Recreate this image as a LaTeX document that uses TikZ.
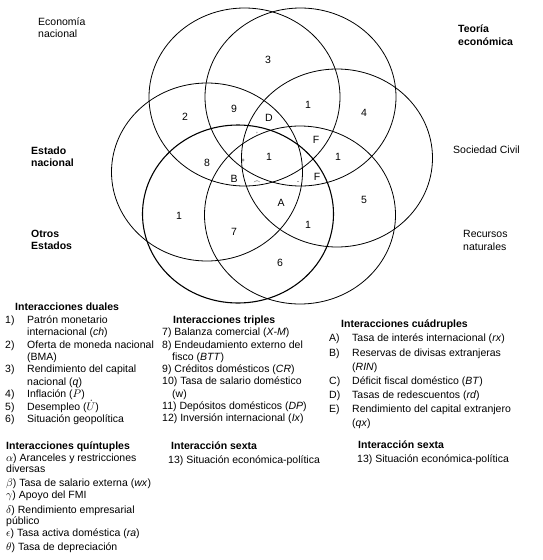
\documentclass[tikz,border=0pt]{standalone}
\usepackage{fontspec}
\setmainfont{Liberation Sans}
\usetikzlibrary{shapes.geometric}

\begin{document}
\begin{tikzpicture}[
  x=1pt, y=-1pt,
  % ── Set outline ─────────────────────────────────────────
  ring/.style={
    ellipse,
    draw           = black,
    line width     = 0.8pt,
    inner sep      = 0pt,
    minimum width  = 191pt,
    minimum height = 178pt
  },
  % ── Highlighted set (heavier outline) ───────────────────
  thickring/.style={
    ring,
    line width = 1.1pt
  },
  % ── Region mark ─────────────────────────────────────────
  num/.style={
    inner sep = 0pt,
    font      = \fontsize{10.5}{12}\selectfont
  },
  tick/.style={
    inner sep = 0pt,
    font      = \fontsize{6}{6}\selectfont
  },
  % ── Set name (placed on its last baseline) ──────────────
  setlbl/.style={
    anchor    = base west,
    inner sep = 0pt,
    align     = left,
    font      = \fontsize{10.5}{12.3}\selectfont
  },
  % ── Legend block (placed on its last baseline) ──────────
  legend/.style={
    anchor    = base west,
    inner sep = 0pt,
    align     = left,
    font      = \fontsize{10.5}{12.4}\selectfont
  }
]

\useasboundingbox (0,0) rectangle (542,560);

% ── Sets ───────────────────────────────────────────────────
\foreach \n/\cx/\cy in {econ/244.5/97, teoria/300.5/97, civil/337/158,
                        recursos/300/215, estado/207/172}
  \node[ring] (\n) at (\cx,\cy) {};
\node[thickring] (otros) at (238,214) {};

% ── Region marks ───────────────────────────────────────────
\foreach \t/\cx/\cy [count=\i] in {3/268/60, 2/185/117, 9/234/109, D/269/118,
                                   1/308/105, 4/364/113, F/316/140, 1/269/157,
                                   1/338/157, 8/207/163, B/234/179, F/317/177,
                                   A/281/203, 1/179/216, 7/234/232, 1/308/225,
                                   5/364/200, 6/280/263}
  \node[num] (r\i) at (\cx,\cy) {\t};
\foreach \t/\cx/\cy [count=\i] in {’/257/134, +/243/161, {$\frown$}/257/182, -/298/183}
  \node[tick] (k\i) at (\cx,\cy) {\t};

% ── Set names ──────────────────────────────────────────────
\node[setlbl] (lecon) at (38,37.5)   {Economía\\nacional};
\node[setlbl, font=\fontsize{10.5}{12.8}\selectfont\bfseries] (lteoria) at (458,45.5) {Teoría\\económica};
\node[setlbl, font=\fontsize{10.5}{12.3}\selectfont\bfseries] (lestado) at (31,166.5) {Estado\\nacional};
\node[setlbl] (lcivil) at (453,153.5) {Sociedad Civil};
\node[setlbl, font=\fontsize{10.5}{12.3}\selectfont\bfseries] (lotros) at (31,249.5) {Otros\\Estados};
\node[setlbl, font=\fontsize{10.5}{13}\selectfont] (lrecursos) at (463,250.5) {Recursos\\naturales};

% ── Legend ─────────────────────────────────────────────────
\node[legend] (duales) at (5,422.5) {%
  \hspace*{10pt}\textbf{Interacciones duales}\\
  \makebox[22pt][l]{1)}Patrón monetario\\
  \hspace*{22pt}internacional (\textit{ch})\\
  \makebox[22pt][l]{2)}Oferta de moneda nacional\\
  \hspace*{22pt}(BMA)\\
  \makebox[22pt][l]{3)}Rendimiento del capital\\
  \hspace*{22pt}nacional (\textit{q})\\
  \makebox[22pt][l]{4)}Inflación ($\dot{P}$)\\
  \makebox[22pt][l]{5)}Desempleo ($\dot{U}$)\\
  \makebox[22pt][l]{6)}Situación geopolítica};

\node[legend, font=\fontsize{10.5}{12.25}\selectfont] (triples) at (162,421.5) {%
  \hspace*{11pt}\textbf{Interacciones triples}\\
  7) Balanza comercial (\textit{X-M})\\
  8) Endeudamiento externo del\\
  \hspace*{10pt}fisco (\textit{BTT})\\
  9) Créditos domésticos (\textit{CR})\\
  10) Tasa de salario doméstico\\
  \hspace*{10pt}(w)\\
  11) Depósitos domésticos (\textit{DP})\\
  12) Inversión internacional (\textit{Ix})};

\node[legend, font=\fontsize{10.5}{14.1}\selectfont] (cuadruples) at (329,426.5) {%
  \hspace*{12pt}\textbf{Interacciones cuádruples}\\
  \makebox[23pt][l]{A)}Tasa de interés internacional (\textit{rx})\\
  \makebox[23pt][l]{B)}Reservas de divisas extranjeras\\
  \hspace*{23pt}(\textit{RIN})\\
  \makebox[23pt][l]{C)}Déficit fiscal doméstico (\textit{BT})\\
  \makebox[23pt][l]{D)}Tasas de redescuentos (\textit{rd})\\
  \makebox[23pt][l]{E)}Rendimiento del capital extranjero\\
  \hspace*{23pt}(\textit{qx})};

\node[legend, font=\fontsize{10.5}{11.5}\selectfont] (quintuples) at (6,550.5) {%
  \textbf{Interacciones quíntuples}\\[0.5pt]
  $\alpha$) Aranceles y restricciones\\
  diversas\\[2.5pt]
  $\beta$) Tasa de salario externa (\textit{wx})\\
  $\gamma$) Apoyo del FMI\\[3.5pt]
  $\delta$) Rendimiento empresarial\\
  público\\[0.5pt]
  $\epsilon$) Tasa activa doméstica (\textit{ra})\\[2.5pt]
  $\theta$) Tasa de depreciación};

\node[legend, font=\fontsize{10.5}{14}\selectfont] (sextaA) at (168,463.5) {%
  \hspace*{3pt}\textbf{Interacción sexta}\\
  13) Situación económica-política};

\node[legend, font=\fontsize{10.5}{14}\selectfont] (sextaB) at (357,462.5) {%
  \hspace*{1pt}\textbf{Interacción sexta}\\
  13) Situación económica-política};

\end{tikzpicture}
\end{document}
